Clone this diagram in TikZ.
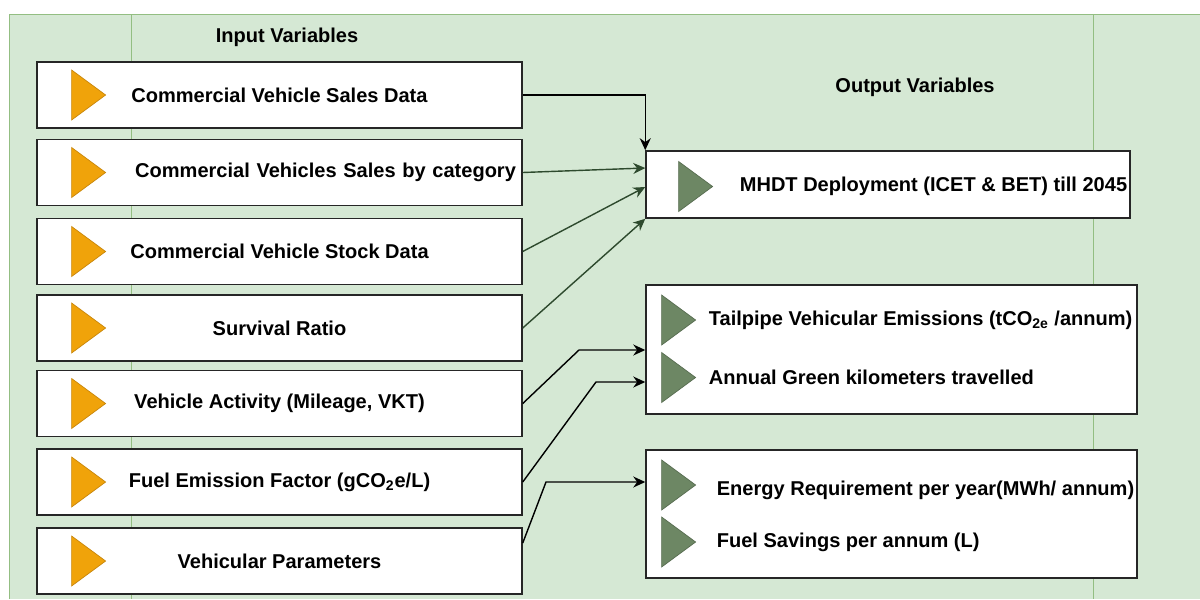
\documentclass[tikz,border=0pt]{standalone}
\usepackage{fontspec}
\setmainfont{Liberation Sans}
\usetikzlibrary{positioning, arrows.meta, shapes.geometric}

\definecolor{panelgreen}{HTML}{D5E8D4}
\definecolor{panelline}{HTML}{93BE82}
\definecolor{triorange}{HTML}{F0A30A}
\definecolor{triorangeline}{HTML}{C8860A}
\definecolor{trigreen}{HTML}{6D8764}
\definecolor{linkgreen}{HTML}{2E4A2E}

\begin{document}
\begin{tikzpicture}[
    x=0.02cm, y=-0.02cm,
    font=\fontsize{11.4}{13}\selectfont\bfseries,
    inbox/.style={draw=black!85, line width=0.9pt, fill=white,
                  minimum width=9.7cm, minimum height=1.32cm, inner sep=0pt},
    outbox/.style={draw=black!85, line width=0.9pt, fill=white, inner sep=0pt},
    intri/.style={isosceles triangle, isosceles triangle stretches,
                  shape border rotate=0, minimum width=1cm, minimum height=0.68cm,
                  inner sep=0pt, fill=triorange, draw=triorangeline, line width=0.4pt},
    outtri/.style={intri, fill=trigreen, draw=trigreen!80!black, anchor=west},
    outtxt/.style={inner sep=0pt, anchor=west},
    head/.style={inner sep=0pt},
    arr/.style={-{Stealth[length=2.4mm, width=2.2mm]}, line width=0.8pt, draw=black},
    garr/.style={arr, draw=linkgreen}
  ]
  \useasboundingbox (0,0) rectangle (1200,599);
  % panel
  \fill[panelgreen] (9,14) rectangle (1200,599);
  \draw[panelline] (1200,14) -- (9,14) -- (9,599);
  \draw[panelline] (131,14) -- (131,599);
  \draw[panelline] (1093,14) -- (1093,599);

  \node[head] (inhead) at (287,37) {Input Variables};
  \node[head] (outhead) at (915,87) {Output Variables};

  % inputs
  \node[inbox] (in1) at (279.5,95) {Commercial Vehicle Sales Data};
  \node[inbox, text width=9.46cm, align=right, inner xsep=0.12cm] (in2) at (279.5,172.5) {Commercial Vehicles Sales by category};
  \node[inbox] (in3) at (279.5,251.5) {Commercial Vehicle Stock Data};
  \node[inbox] (in4) at (279.5,328) {Survival Ratio};
  \node[inbox] (in5) at (279.5,403.5) {Vehicle Activity (Mileage, VKT)};
  \node[inbox] (in6) at (279.5,482) {Fuel Emission Factor (gCO\textsubscript{2}e/L)};
  \node[inbox] (in7) at (279.5,561) {Vehicular Parameters};
  \foreach \i in {1,...,7}
    \node[intri, right=0.7cm of in\i.west] (tri\i) {};

  % outputs
  \node[outbox, minimum width=9.68cm, minimum height=1.34cm] (out1) at (888,184.5) {};
  \node[outtri] (otri1) at ([xshift=0.66cm, yshift=-0.04cm]out1.west) {};
  \node[outtxt, right=0.52cm of otri1] (otxt1) {MHDT Deployment (ICET \& BET) till 2045};

  \node[outbox, minimum width=9.82cm, minimum height=2.58cm] (out2) at (891.5,349.5) {};
  \node[outtri] (otri2) at ([xshift=0.32cm, yshift=0.59cm]out2.west) {};
  \node[outtri] (otri3) at ([xshift=0.32cm, yshift=-0.56cm]out2.west) {};
  \node[outtxt, right=0.24cm of otri2] (otxt2) {Tailpipe Vehicular Emissions (tCO\textsubscript{2e} /annum)};
  \node[outtxt, right=0.24cm of otri3] (otxt3) {Annual Green kilometers travelled};

  \node[outbox, minimum width=9.82cm, minimum height=2.56cm] (out3) at (891.5,514) {};
  \node[outtri] (otri4) at ([xshift=0.32cm, yshift=0.58cm]out3.west) {};
  \node[outtri] (otri5) at ([xshift=0.32cm, yshift=-0.56cm]out3.west) {};
  \node[outtxt, right=0.4cm of otri4, yshift=-0.1cm] (otxt4) {Energy Requirement per year(MWh/ annum)};
  \node[outtxt, right=0.4cm of otri5] (otxt5) {Fuel Savings per annum (L)};

  % links
  \draw[arr] (in1.east) -| (out1.north west);
  \draw[garr] (in2.east) -- (out1.west |- 0,168);
  \draw[garr] (in3.east) -- (out1.west |- 0,187);
  \draw[garr] (in4.east) -- (out1.south west);
  \draw[arr] (in5.east) -- (579,350) -- (out2.west |- 0,350);
  \draw[arr] (in6.east) -- (596,382) -- (out2.west |- 0,382);
  \draw[arr] (in7.east |- 0,543) -- (546,482) -- (out3.west |- 0,482);
\end{tikzpicture}
\end{document}
